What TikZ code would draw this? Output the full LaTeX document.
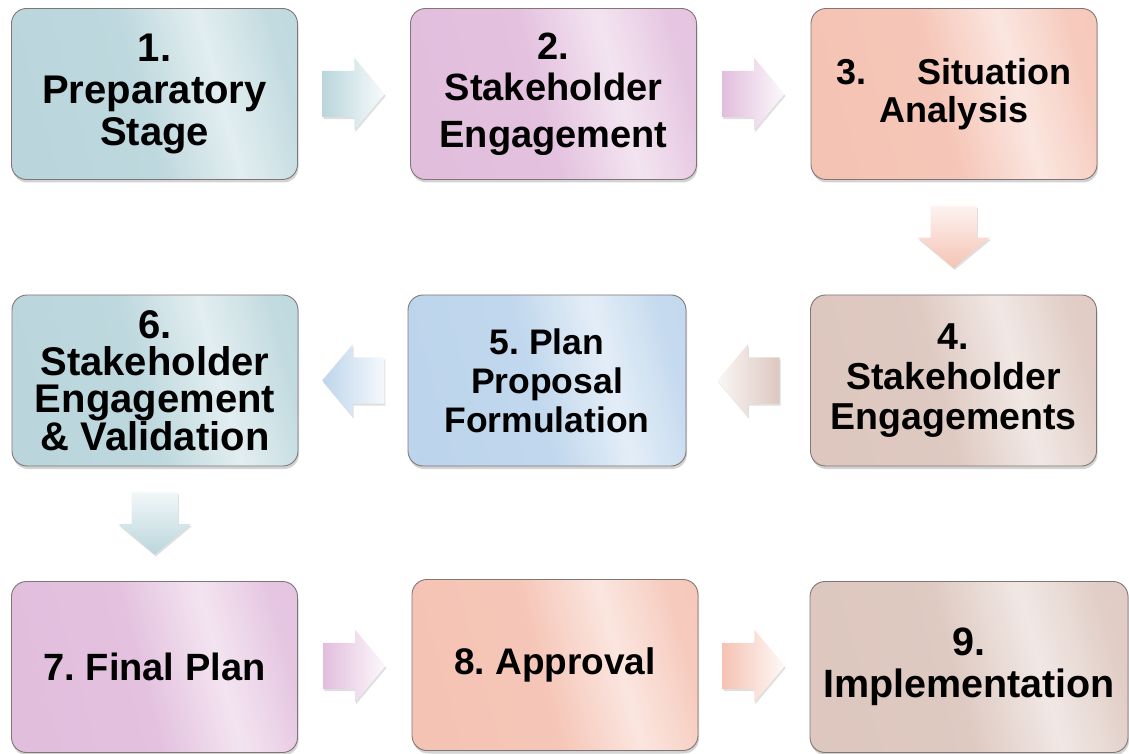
\documentclass[tikz,border=0pt]{standalone}
\usepackage{fontspec}
\setmainfont{Liberation Sans}
\frenchspacing
\usetikzlibrary{calc,shapes.arrows,shadows}

\definecolor{tealc}{RGB}{186,214,220}
\definecolor{pinkc}{RGB}{226,190,221}
\definecolor{salmc}{RGB}{245,195,180}
\definecolor{taupec}{RGB}{221,199,191}
\definecolor{bluec}{RGB}{189,213,236}
\definecolor{rimc}{RGB}{128,118,118}
\colorlet{boxcol}{tealc}
\pgfdeclarehorizontalshading[boxcol]{glare}{100bp}{color(0bp)=(boxcol); color(25bp)=(boxcol); color(47bp)=(boxcol!95!white); color(62bp)=(boxcol!42!white); color(69bp)=(boxcol!65!white); color(75bp)=(boxcol!88!white); color(100bp)=(boxcol)}

\tikzset{
  stage/.style={/utils/exec={\colorlet{boxcol}{#1}}, shading=glare, shading angle=15,
    draw=rimc, line width=0.9pt, rounded corners=15pt,
    minimum width=286pt, minimum height=171pt, inner sep=0pt, align=center,
    font=\bfseries\fontsize{38}{41}\selectfont,
    drop shadow={opacity=0.35, shadow xshift=1pt, shadow yshift=-3pt}},
  txt/.style 2 args={font=\bfseries\fontsize{#1}{#2}\selectfont},
  flowarr/.style={single arrow, single arrow head extend=13pt, single arrow tip angle=100,
    minimum width=72pt, minimum height=62pt, inner xsep=0pt, inner ysep=23pt,
    drop shadow={opacity=0.25, shadow xshift=1pt, shadow yshift=-2pt}},
  goright/.style={flowarr, xshift=-10pt, left color=#1, right color=#1!10!white},
  goleft/.style={flowarr, xshift=10pt, rotate=180, left color=#1!15!white, right color=#1},
  godown/.style={flowarr, yshift=10pt, rotate=-90, top color=#1!20!white, bottom color=#1}
}

\begin{document}
\begin{tikzpicture}[x=1pt,y=1pt]
\useasboundingbox (0,0) rectangle (1129,753);
% first row
\node[stage=tealc,txt={40}{42}] at (154.5,659) (prep) {1.\\Preparatory\\Stage};
\node[stage=pinkc] at (553.5,659) (eng) {2.\\Stakeholder\\[6pt]Engagement};
\node[stage=salmc,txt={36}{38}] at (954,659) (sit) {3.\hspace{1.4em}Situation\\Analysis};
% second row
\node[stage=taupec,txt={37.5}{40}] at (953.5,372.5) (engs) {4.\\Stakeholder\\Engagements};
\node[stage=bluec,minimum width=278pt,txt={35.5}{39}] at (547,372.5) (plan) {5. Plan\\Proposal\\Formulation};
\node[stage=tealc,txt={40}{37}] at (155,372.5) (val) {6.\\Stakeholder\\Engagement\\\& Validation};
% third row
\node[stage=pinkc] at (154.5,86) (final) {7. Final Plan};
\node[stage=salmc,txt={37}{40}] at (555,88) (appr) {8. Approval};
\node[stage=taupec,minimum width=318pt,txt={39.5}{42}] at (969,86) (impl) {9.\\Implementation};
% block arrows
\node[goright=tealc] at ($(prep.east)!0.5!(eng.west)$) (a12) {};
\node[goright=pinkc] at ($(eng.east)!0.5!(sit.west)$) (a23) {};
\node[godown=salmc] at ($(sit.south)!0.5!(engs.north)$) (a34) {};
\node[goleft=taupec] at ($(engs.west)!0.5!(plan.east)$) (a45) {};
\node[goleft=bluec, left color=bluec, right color=bluec!15!white] at ($(plan.west)!0.5!(val.east)$) (a56) {};
\node[godown=tealc] at ($(val.south)!0.5!(final.north)$) (a67) {};
\node[goright=pinkc] at ($(final.east)!0.5!(appr.west)$) (a78) {};
\node[goright=salmc] at ($(appr.east)!0.5!(impl.west)$) (a89) {};
\end{tikzpicture}
\end{document}
